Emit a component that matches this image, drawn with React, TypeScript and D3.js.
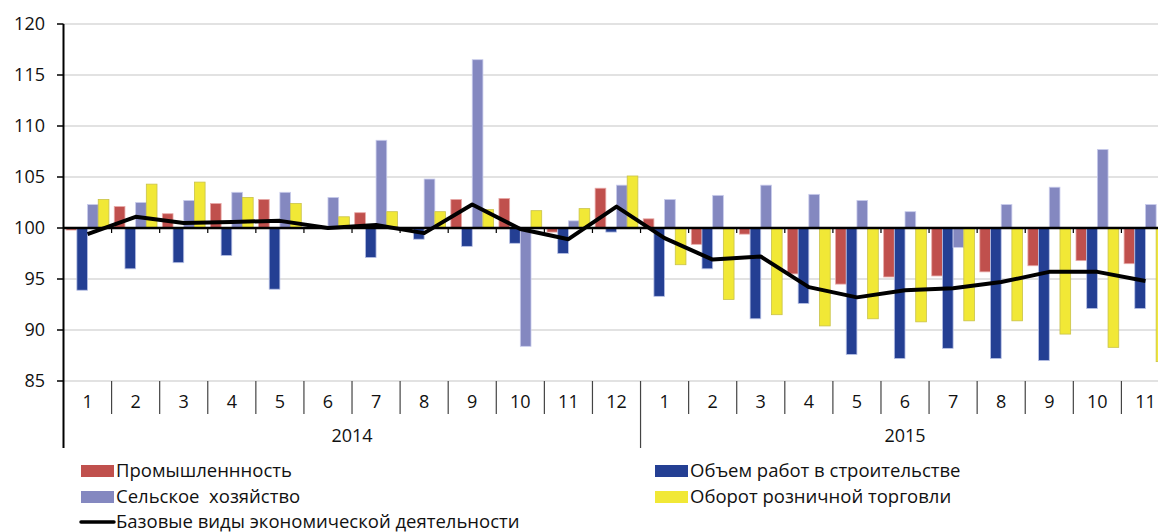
import React from "react";
import * as d3 from "d3";

const months2014 = ["1", "2", "3", "4", "5", "6", "7", "8", "9", "10", "11", "12"];
const months2015 = ["1", "2", "3", "4", "5", "6", "7", "8", "9", "10", "11"];
const years = ["2014", "2015"];

const prom = [99.8, 102.1, 101.4, 102.4, 102.8, 100.0, 101.5, 100.0, 102.8, 102.9, 99.6, 103.9,
  100.9, 98.4, 99.4, 95.5, 94.5, 95.2, 95.3, 95.7, 96.3, 96.8, 96.5];
const stroi = [93.9, 96.0, 96.6, 97.3, 94.0, 100.0, 97.1, 98.9, 98.2, 98.5, 97.5, 99.6,
  93.3, 96.0, 91.1, 92.6, 87.6, 87.2, 88.2, 87.2, 87.0, 92.1, 92.1];
const selh = [102.3, 102.5, 102.7, 103.5, 103.5, 103.0, 108.6, 104.8, 116.5, 88.4, 100.7, 104.2,
  102.8, 103.2, 104.2, 103.3, 102.7, 101.6, 98.1, 102.3, 104.0, 107.7, 102.3];
const torg = [102.8, 104.3, 104.5, 103.0, 102.4, 101.1, 101.6, 101.6, 101.8, 101.7, 101.9, 105.1,
  96.4, 93.0, 91.5, 90.4, 91.1, 90.8, 90.9, 90.9, 89.6, 88.3, 86.9];
const base = [99.4, 101.1, 100.5, 100.6, 100.7, 100.0, 100.3, 99.5, 102.3, 99.9, 98.9, 102.1,
  99.0, 96.9, 97.2, 94.2, 93.2, 93.9, 94.1, 94.7, 95.7, 95.7, 94.8];

const yTicks = [85, 90, 95, 100, 105, 110, 115, 120];

const series = [
  { name: "Промышленнность", values: prom, fill: "#c0504d", stroke: "#e8a9a7" },
  { name: "Объем работ в строительстве", values: stroi, fill: "#243f93", stroke: "#b9c2e6" },
  { name: "Сельское  хозяйство", values: selh, fill: "#8488c0", stroke: "#c9ccec" },
  { name: "Оборот розничной торговли", values: torg, fill: "#f1e836", stroke: "#c9c24a" },
];
const lineName = "Базовые виды экономической деятельности";

const W = 1158, H = 532;
const FONT = "'Open Sans', 'Noto Sans', sans-serif";
const FS = 18;
const LEG_FS = 18.5;

export default function App() {
  const labels = [...months2014, ...months2015];
  const idx = labels.map((_, i) => i);

  const x = d3.scaleBand<number>().domain(idx).range([63.5, 1169.5]).padding(0);
  const inner = d3.scaleBand<number>().domain(series.map((_, i) => i))
    .range([0, x.bandwidth()]).paddingInner(0).paddingOuter(0.25);
  const y = d3.scaleLinear().domain([85, 120]).range([381, 24]);

  const line = d3.line<number>()
    .x((_, i) => x(i)! + x.bandwidth() / 2)
    .y((d) => y(d));

  const yearSpans = [
    { label: years[0], from: 0, to: months2014.length },
    { label: years[1], from: months2014.length, to: labels.length },
  ];

  return (
    <svg width={W} height={H} style={{ position: "absolute", left: 0, top: 0, background: "#fff" }}
      fontFamily={FONT}>
      {/* grid */}
      {yTicks.map((t) => (
        <line key={t} x1={63.5} x2={1170} y1={y(t)} y2={y(t)} stroke="#d9d9d9" strokeWidth={1.5} />
      ))}
      {/* bars */}
      {series.map((s, si) => (
        <g key={s.name}>
          {s.values.map((v, i) => (
            <rect key={i}
              x={x(i)! + inner(si)!}
              width={inner.bandwidth()}
              y={Math.min(y(v), y(100))}
              height={Math.abs(y(v) - y(100))}
              fill={s.fill} stroke={s.stroke} strokeWidth={0.8} />
          ))}
        </g>
      ))}
      {/* 100 axis */}
      <line x1={63.5} x2={1170} y1={y(100)} y2={y(100)} stroke="#000" strokeWidth={2.5} />
      {idx.slice(1).map((i) => (
        <line key={i} x1={x(i)} x2={x(i)} y1={y(100)} y2={y(100) + 5} stroke="#000" strokeWidth={1.2} />
      ))}
      {/* base line */}
      <path d={line(base) || ""} fill="none" stroke="#000" strokeWidth={4} strokeLinejoin="round" />
      {/* y axis */}
      <line x1={63.5} x2={63.5} y1={y(120)} y2={448} stroke="#000" strokeWidth={2} />
      {yTicks.map((t) => (
        <g key={t}>
          <line x1={57} x2={63.5} y1={y(t)} y2={y(t)} stroke="#000" strokeWidth={1.5} />
          <text x={45} y={y(t)} dy="0.35em" textAnchor="end" fontSize={FS} fill="#111">{t}</text>
        </g>
      ))}
      {/* category labels */}
      {idx.map((i) => (
        <g key={i}>
          {i > 0 && !yearSpans.some((ys) => ys.from === i) && (
            <line x1={x(i)} x2={x(i)} y1={381} y2={414} stroke="#444" strokeWidth={1.2} />
          )}
          <text x={x(i)! + x.bandwidth() / 2} y={402} dy="0.35em" textAnchor="middle" fontSize={FS} fill="#111">
            {labels[i]}
          </text>
        </g>
      ))}
      {yearSpans.map((ys) => (
        <g key={ys.label}>
          {ys.from > 0 && (
            <line x1={x(ys.from)} x2={x(ys.from)} y1={381} y2={448} stroke="#444" strokeWidth={1.2} />
          )}
          <text x={(x(ys.from)! + x(ys.to - 1)! + x.bandwidth()) / 2} y={436} dy="0.35em"
            textAnchor="middle" fontSize={FS} fill="#111">{ys.label}</text>
        </g>
      ))}
      {/* legend */}
      {series.map((s, si) => {
        const lx = si % 2 === 0 ? 81 : 655;
        const ly = si < 2 ? 471 : 497;
        return (
          <g key={s.name}>
            <rect x={lx} y={ly - 6} width={33} height={12} fill={s.fill} />
            <text x={lx + 35} y={ly} dy="0.35em" fontSize={LEG_FS} fill="#111" style={{ whiteSpace: "pre" }}>
              {s.name}
            </text>
          </g>
        );
      })}
      <line x1={81} x2={114} y1={522} y2={522} stroke="#000" strokeWidth={3.5} strokeLinecap="round" />
      <text x={116} y={522} dy="0.35em" fontSize={LEG_FS} fill="#111">{lineName}</text>
    </svg>
  );
}
